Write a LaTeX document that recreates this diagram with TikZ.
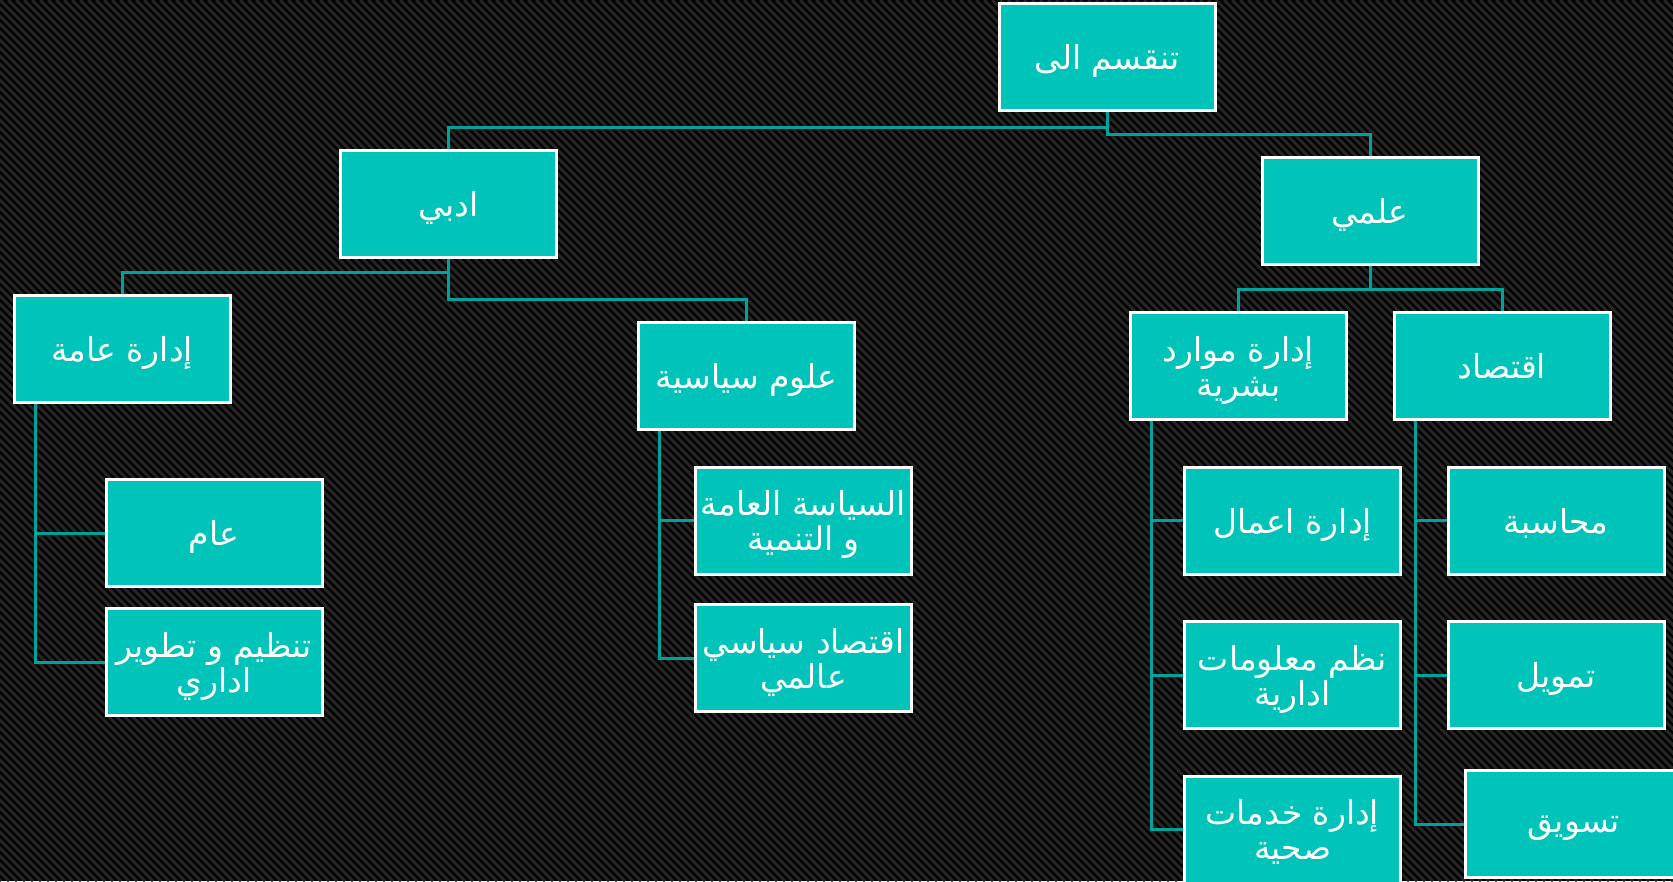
\documentclass[tikz,border=0pt]{standalone}
\usepackage{fontspec}
\newfontfamily\arabicfont[Script=Arabic]{DejaVu Sans}
\TeXXeTstate=1
\pgfdeclarelayer{bg}
\pgfsetlayers{bg,main}
\definecolor{boxteal}{HTML}{00C4BA}
\definecolor{linkteal}{HTML}{00A39B}
\definecolor{stripegray}{HTML}{252525}
\newcommand\artext[1]{\beginR#1\endR}

\begin{document}
\begin{tikzpicture}[x=1pt, y=-1pt,
  unit/.style={draw=white, line width=3pt, fill=boxteal, text=white,
    minimum width=216pt, minimum height=107pt, inner sep=0pt, align=center,
    text depth=0pt, font=\arabicfont\fontsize{33}{35}\selectfont},
  link/.style={draw=linkteal, line width=3pt}]
\useasboundingbox (0,0) rectangle (1673,881); % page size
\begin{pgfonlayer}{bg}
\fill[black] (0,0) rectangle (1673,881);
\begin{scope}
\clip (0,0) rectangle (1673,881);
\foreach \i in {-880,-872,...,1680}
  \draw[stripegray, line width=3pt] (\i,0) -- ++(881,881);
\end{scope}
\end{pgfonlayer}

\node[unit] (root) at (1107,57) {\artext{تنقسم الى}};
\node[unit] (adabi) at (448.5,204) {\artext{ادبي}};
\node[unit] (ilmi) at (1370,211) {\artext{علمي}};

\node[unit] (idara) at (122,349) {\artext{إدارة عامة}};
\node[unit] (siyasa) at (746.5,376) {\artext{علوم سياسية}};
\node[unit] (mawarid) at (1238.5,366) {\artext{إدارة موارد}\\\artext{بشرية}};
\node[unit] (iqtisad) at (1502,366) {\artext{اقتصاد}};

\node[unit] (aam) at (214,533) {\artext{عام}};
\node[unit] (tanzim) at (214,662) {\artext{تنظيم و تطوير}\\\artext{اداري}};
\node[unit] (siyasaamma) at (803.5,520.5) {\artext{السياسة العامة}\\\artext{و التنمية}};
\node[unit] (iqtisadalami) at (803.5,658) {\artext{اقتصاد سياسي}\\\artext{عالمي}};
\node[unit] (aamal) at (1292.5,520.5) {\artext{إدارة اعمال}};
\node[unit] (nuzum) at (1292.5,675) {\artext{نظم معلومات}\\\artext{ادارية}};
\node[unit] (khadamat) at (1292.5,829.5) {\artext{إدارة خدمات}\\\artext{صحية}};
\node[unit] (muhasaba) at (1556,520.5) {\artext{محاسبة}};
\node[unit] (tamwil) at (1556,675) {\artext{تمويل}};
\node[unit] (taswiq) at (1573.5,824) {\artext{تسويق}};

\begin{pgfonlayer}{bg}
\draw[link] (root.south) -- ++(0,15) -| (adabi.north);
\draw[link] (root.south) -- ++(0,22.5) -| (ilmi.north);
\draw[link] (adabi.south) -- ++(0,13) -| (idara.north);
\draw[link] (adabi.south) -- ++(0,40) -| (siyasa.north);
\draw[link] (ilmi.south) -- ++(0,23) -| (mawarid.north);
\draw[link] (ilmi.south) -- ++(0,23) -| (iqtisad.north);

\coordinate (idaratrunk) at ([xshift=-87pt]idara.south);
\coordinate (siyasatrunk) at ([xshift=-87pt]siyasa.south);
\coordinate (mawaridtrunk) at ([xshift=-87pt]mawarid.south);
\coordinate (iqtisadtrunk) at ([xshift=-87pt]iqtisad.south);
\foreach \c in {aam,tanzim}
  \draw[link] (idaratrunk) |- (\c.west);
\foreach \c in {siyasaamma,iqtisadalami}
  \draw[link] (siyasatrunk) |- (\c.west);
\foreach \c in {aamal,nuzum,khadamat}
  \draw[link] (mawaridtrunk) |- (\c.west);
\foreach \c in {muhasaba,tamwil,taswiq}
  \draw[link] (iqtisadtrunk) |- (\c.west);
\end{pgfonlayer}
\end{tikzpicture}
\end{document}
